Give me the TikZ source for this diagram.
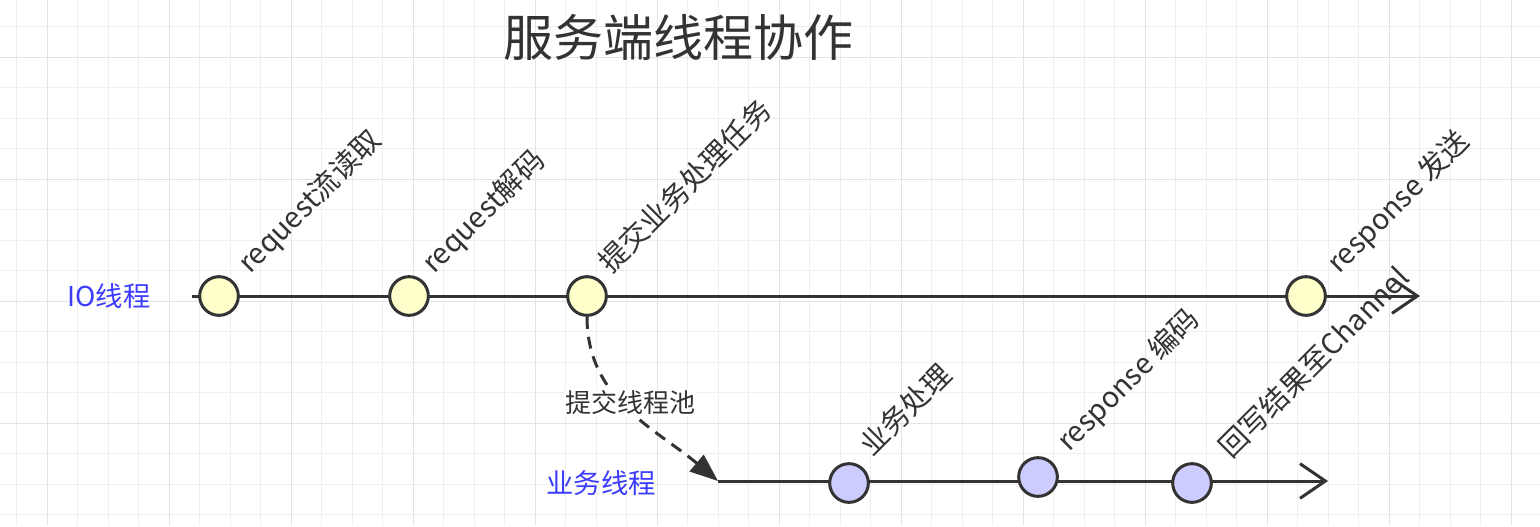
\documentclass[tikz,border=0pt]{standalone}
\usepackage{fontspec}
\setmainfont{Noto Sans CJK SC}
\usetikzlibrary{arrows.meta}
\definecolor{ink}{HTML}{333333}
\definecolor{bluetxt}{HTML}{3C3CFF}
\definecolor{ioyel}{HTML}{FFFFCC}
\definecolor{bizpur}{HTML}{CCCCFF}
\definecolor{gridmin}{HTML}{EFEFEF}
\definecolor{gridmaj}{HTML}{E3E3E3}
\begin{document}
\begin{tikzpicture}[x=0.75pt,y=-0.75pt,
  evt/.style={circle, draw=ink, line width=2.25pt, minimum size=29pt, inner sep=0pt},
  ioevt/.style={evt, fill=ioyel},
  bizevt/.style={evt, fill=bizpur},
  tline/.style={draw=ink, line width=2.25pt, -{Straight Barb[length=19pt,width=26pt]}},
  steplabel/.style={text=ink, font=\fontsize{21.5pt}{24pt}\selectfont, rotate=45, anchor=base west, inner sep=0pt},
  lanelabel/.style={text=bluetxt, font=\fontsize{20.5pt}{24pt}\selectfont, inner sep=0pt},
  gridminor/.style={draw=gridmin, line width=0.8pt},
  gridmajor/.style={draw=gridmaj, line width=1pt},
]
\useasboundingbox (0,0) rectangle (1540,526);
\fill[white] (0,0) rectangle (1540,526);
% grid
\foreach \i in {0,...,50} \draw[gridminor] ({16.7+30.5*\i},0) -- ({16.7+30.5*\i},526);
\foreach \j in {0,...,16} \draw[gridminor] (0,{26.7+30.5*\j}) -- (1540,{26.7+30.5*\j});
\foreach \i in {0,...,12} \draw[gridmajor] ({47.7+122*\i},0) -- ({47.7+122*\i},526);
\foreach \j in {0,...,3} \draw[gridmajor] (0,{57.7+122*\j}) -- (1540,{57.7+122*\j});

% title
\node[text=ink, font=\fontsize{37.5pt}{40pt}\selectfont, inner sep=0pt] (title) at (678,37) {服务端线程协作};

% lane labels
\node[lanelabel] (iolab) at (109,296) {IO线程};
\node[lanelabel] (bizlab) at (601,483) {业务线程};

% timelines
\coordinate (iostart) at (192,296);
\coordinate (ioend) at (1420,296);
\coordinate (bizstart) at (718,481);
\coordinate (bizend) at (1328,481);
\draw[tline] (iostart) -- (ioend);
\draw[tline] (bizstart) -- (bizend);

% IO events
\node[ioevt] (c1) at (219,296) {};
\node[ioevt] (c2) at (409,296) {};
\node[ioevt] (c3) at (587,296) {};
\node[ioevt] (c4) at (1306,296) {};

% business events
\node[bizevt] (b1) at (849,483) {};
\node[bizevt] (b2) at (1038,477) {};
\node[bizevt] (b3) at (1192,483) {};

% submit to pool
\draw[ink, line width=2.25pt, dash pattern=on 9pt off 6pt, -{Triangle[length=21pt,width=16pt]}]
  (c3) to[out=-90,in=140] (bizstart);
\node[fill=white, text=ink, font=\fontsize{19.5pt}{22pt}\selectfont, inner sep=1pt] (poollab) at (630,403) {提交线程池};

% step labels
\node[steplabel] (l1) at (250,275) {request流读取};
\node[steplabel] (l2) at (434,275) {request解码};
\node[steplabel] (l3) at (611,275) {提交业务处理任务};
\node[steplabel] (l4) at (1339,275) {response 发送};
\node[steplabel] (l5) at (872,458) {业务处理};
\node[steplabel] (l6) at (1069,453) {response 编码};
\node[steplabel] (l7) at (1231,460) {回写结果至Channel};
\end{tikzpicture}
\end{document}
